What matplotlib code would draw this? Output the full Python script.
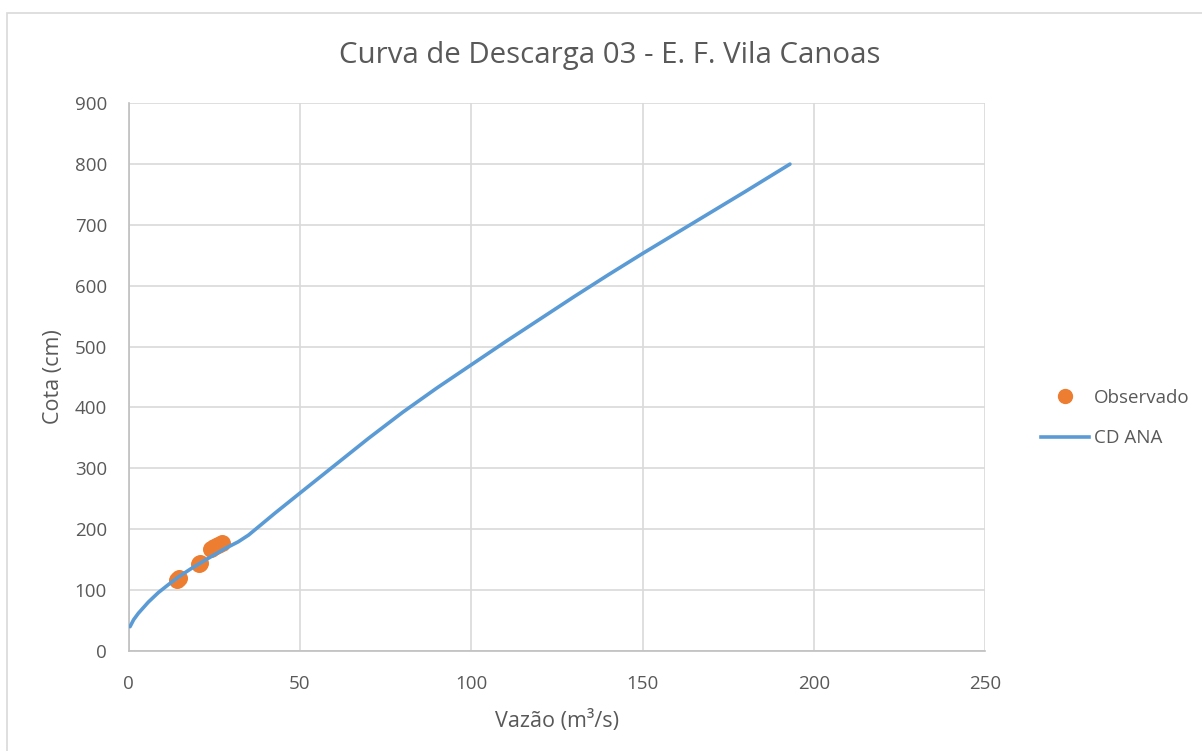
import matplotlib
matplotlib.use("Agg")
import matplotlib.pyplot as plt
from matplotlib.lines import Line2D
from matplotlib.patches import Rectangle

plt.rcParams['font.family'] = ['Open Sans', 'DejaVu Sans']

# Rating curve (CD ANA)
cd_q = [0.44, 1.5, 2.87, 5.8, 8.7, 11.6, 14.5, 18.4, 23.3, 28.2, 32, 35,
        38, 42.7, 50, 60, 70, 80, 90, 100, 110, 120, 130, 140, 150, 160, 170, 180, 193]
cd_h = [39.5, 51, 61.5, 80, 95.5, 108.5, 121, 135.4, 152, 168, 179, 190,
        204, 226, 259, 304, 349, 392, 432, 470, 508, 545, 582, 618, 653, 687, 721, 755, 800]

# Observed gaugings
obs_q = [14.2, 14.6, 20.5, 21.0, 24.0, 25.0, 26.2, 27.2]
obs_h = [117, 119, 142, 145, 168, 171, 174, 177]

xticks = [0, 50, 100, 150, 200, 250]
yticks = [0, 100, 200, 300, 400, 500, 600, 700, 800, 900]

TXT = '#595959'
GRID = '#D9D9D9'
BLUE = '#5B9BD5'
ORANGE = '#ED7D31'

fig = plt.figure(figsize=(12.02, 7.51), dpi=100)
fig.patches.append(Rectangle((6.7/1202, -0.5), 1.5, 1.5 - 12.7/751, transform=fig.transFigure,
                             fill=False, edgecolor='#D9D9D9', linewidth=1.2))
ax = fig.add_axes([128.5/1202, 1 - 650.7/751, (985.3-128.5)/1202, (650.7-103.3)/751])

ax.scatter(obs_q, obs_h, s=150, color=ORANGE, zorder=3, linewidths=0)
ax.plot(cd_q, cd_h, color=BLUE, linewidth=2.6, zorder=4, solid_capstyle='round',
        solid_joinstyle='round')

ax.set_xlim(0, 250)
ax.set_ylim(0, 900)
ax.set_xticks(xticks)
ax.set_yticks(yticks)
ax.grid(True, color=GRID, linewidth=1.2)
ax.set_axisbelow(True)
for s in ['top', 'right']:
    ax.spines[s].set_visible(False)
for s in ['left', 'bottom']:
    ax.spines[s].set_color('#BFBFBF')
    ax.spines[s].set_linewidth(1.2)
ax.tick_params(length=0, labelsize=13.5, colors=TXT)
ax.tick_params(axis='y', pad=15.5)
ax.tick_params(axis='x', pad=17.5)

ax.set_xlabel('Vazão (m³/s)', fontsize=15.5, color=TXT, labelpad=12)
ax.set_ylabel('Cota (cm)', fontsize=15.5, color=TXT, labelpad=8)
fig.text(0.5075, 1 - 56/751, 'Curva de Descarga 03 - E. F. Vila Canoas', ha='center', va='center',
         fontsize=21.2, color=TXT)

handles = [Line2D([], [], marker='o', linestyle='none', color=ORANGE, markersize=10),
           Line2D([], [], color=BLUE, linewidth=2.6)]
leg = fig.legend(handles, ['Observado', 'CD ANA'], loc='center left',
                 bbox_to_anchor=(1024/1202, 1 - 418/751), frameon=False,
                 fontsize=13.5, labelcolor=TXT, handlelength=2.56, handletextpad=0.27,
                 labelspacing=1.2)

fig.savefig('out.png', dpi=100)
